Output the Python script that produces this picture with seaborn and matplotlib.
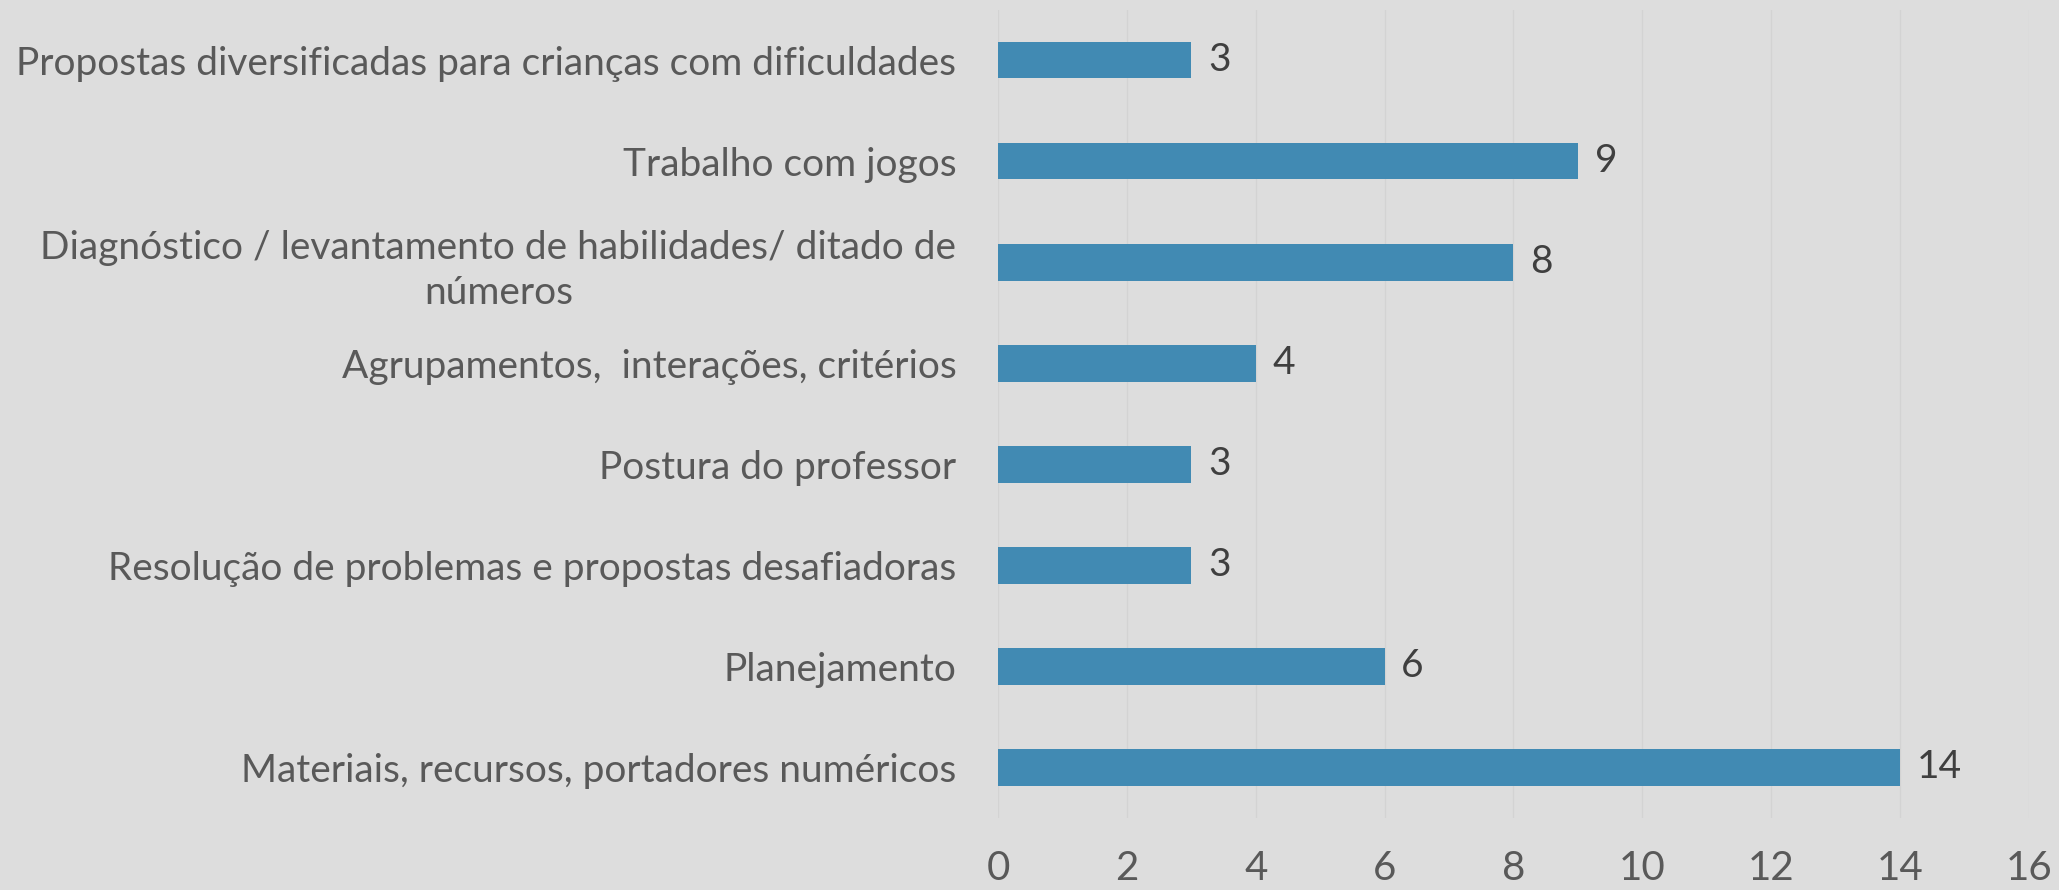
import matplotlib
matplotlib.use("Agg")
import matplotlib.pyplot as plt
import seaborn as sns
import pandas as pd

# Dados do gráfico
categorias = [
    "Propostas diversificadas para crianças com dificuldades",
    "Trabalho com jogos",
    "Diagnóstico / levantamento de habilidades/ ditado de\nnúmeros",
    "Agrupamentos,  interações, critérios",
    "Postura do professor",
    "Resolução de problemas e propostas desafiadoras",
    "Planejamento",
    "Materiais, recursos, portadores numéricos",
]
valores = [3, 9, 8, 4, 3, 3, 6, 14]
xticks = [0, 2, 4, 6, 8, 10, 12, 14, 16]

df = pd.DataFrame({"categoria": categorias, "valor": valores})

sns.set_style("whitegrid")
plt.rcParams['font.family'] = ['Lato', 'DejaVu Sans']

fundo = "#dddddd"
fig = plt.figure(figsize=(20.59, 8.90), dpi=100, facecolor=fundo)
ax = fig.add_axes([0.4847, 0.081, 0.5007, 0.908])
ax.set_facecolor(fundo)

sns.barplot(data=df, x="valor", y="categoria", orient="h", color="#418ab3",
            saturation=1, width=0.36, linewidth=0, ax=ax)

# rótulos de valor
for i, v in enumerate(valores):
    ax.text(v + 0.26, i, str(v), va="center", ha="left", fontsize=28, color="#3f3f3f")

ax.set_xlim(0, 16)
ax.set_ylim(7.5, -0.5)
ax.set_xticks(xticks)
ax.set_xticklabels([str(t) for t in xticks])
ax.set_xlabel("")
ax.set_ylabel("")
ax.grid(axis="x", color="#d3d3d3", linewidth=1)
ax.grid(axis="y", visible=False)
for s in ax.spines.values():
    s.set_visible(False)

ax.tick_params(axis="x", length=0, pad=23, labelsize=29, labelcolor="#595959")
ax.tick_params(axis="y", length=0, pad=30, labelsize=28, labelcolor="#595959")
for lbl in ax.get_yticklabels():
    lbl.set_multialignment("center")
    lbl.set_linespacing(1.3)

fig.savefig("out.png", dpi=100, facecolor=fundo)
